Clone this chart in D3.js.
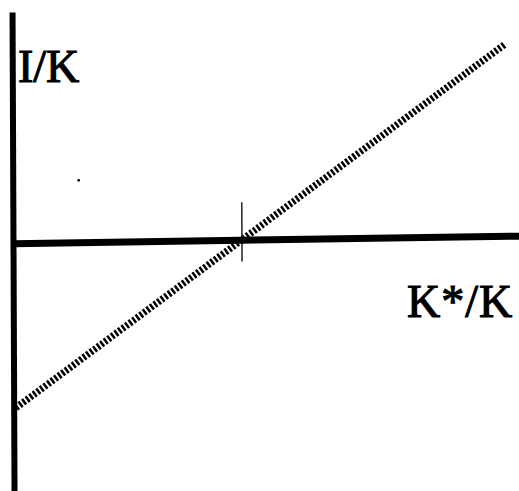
<!DOCTYPE html>
<html>
<head>
<meta charset="utf-8">
<script src="https://cdn.jsdelivr.net/npm/d3@7"></script>
<style>
  html, body { margin: 0; padding: 0; background: #fff; }
  svg { display: block; }
  .label { font-family: "Liberation Serif", "Times New Roman", serif; font-size: 46px; fill: #000; stroke: #000; stroke-width: 1.1px; }
</style>
</head>
<body>
<div id="chart-area"></div>
<script>
// K*/K domain of the horizontal axis, I/K domain of the vertical axis
var xDomain = [0, 2.21];
var yDomain = [-1.49, 1.39];

// the investment line I/K = K*/K - 1 (endpoints)
var lineX = [0.01, 2.15];
var lineY = [-0.99, 1.15];

// the single tick at K*/K = 1, and its span in I/K units
var tickValues = [1];
var tickSpan = [-0.13, 0.225];

// stray speck in the scan
var speckX = [0.288];
var speckY = [0.372];

var width = 519, height = 491;
var origin = {x: 13, y: 243};

var svg = d3.select("#chart-area")
    .append("svg")
    .attr("width", width)
    .attr("height", height);

svg.append("rect")
    .attr("width", width)
    .attr("height", height)
    .attr("fill", "#fff");

// slight skew: the original is a scanned page
var g = svg.append("g")
    .attr("transform", "translate(" + origin.x + "," + origin.y + ") matrix(1,-0.0149,0.0042,1,0,0)");

var x = d3.scaleLinear()
    .domain(xDomain)
    .range([0, 506]);

var y = d3.scaleLinear()
    .domain(yDomain)
    .range([248, -231]);

// horizontal axis at I/K = 0
var xAxis = g.append("g")
    .attr("transform", "translate(0," + y(0) + ")")
    .call(d3.axisBottom(x).ticks(0).tickSizeOuter(0));
xAxis.select(".domain")
    .attr("stroke", "#000")
    .attr("stroke-width", 7);

// vertical axis at K*/K = 0
var yAxis = g.append("g")
    .attr("transform", "translate(" + x(0) + ",0)")
    .call(d3.axisLeft(y).ticks(0).tickSizeOuter(0));
yAxis.select(".domain")
    .attr("stroke", "#000")
    .attr("stroke-width", 6);

// tick mark where the line crosses
g.selectAll(".tick-mark")
    .data(tickValues)
    .enter()
    .append("line")
    .attr("class", "tick-mark")
    .attr("x1", function (d) { return x(d); })
    .attr("x2", function (d) { return x(d); })
    .attr("y1", y(tickSpan[0]))
    .attr("y2", y(tickSpan[1]))
    .attr("stroke", "#000")
    .attr("stroke-width", 1.3);

// dotted line
var pts = lineX.map(function (d, i) { return [d, lineY[i]]; });
var line = d3.line()
    .x(function (d) { return x(d[0]); })
    .y(function (d) { return y(d[1]); });

g.append("path")
    .datum(pts)
    .attr("d", line)
    .attr("fill", "none")
    .attr("stroke", "#000")
    .attr("stroke-width", 7)
    .attr("stroke-dasharray", "2.5,1.9");

g.selectAll(".speck")
    .data(speckX)
    .enter()
    .append("circle")
    .attr("class", "speck")
    .attr("cx", function (d) { return x(d); })
    .attr("cy", function (d, i) { return y(speckY[i]); })
    .attr("r", 1.4)
    .attr("fill", "#000");

// labels
svg.append("text")
    .attr("class", "label")
    .attr("x", 18)
    .attr("y", 82)
    .text("I/K");

svg.append("text")
    .attr("class", "label")
    .attr("x", 407)
    .attr("y", 317)
    .attr("letter-spacing", 1)
    .text("K*/K");
</script>
</body>
</html>
